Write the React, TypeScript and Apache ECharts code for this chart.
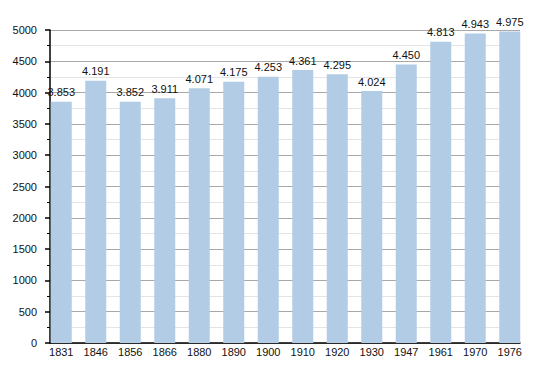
import React, { useEffect, useRef } from "react";
import * as echarts from "echarts";

const categories = ["1831", "1846", "1856", "1866", "1880", "1890", "1900", "1910", "1920", "1930", "1947", "1961", "1970", "1976"];
const population = [3853, 4191, 3852, 3911, 4071, 4175, 4253, 4361, 4295, 4024, 4450, 4813, 4943, 4975];
const yMin = 0;
const yMax = 5000;
const yInterval = 500;

const FONT = "'Liberation Sans', Arial, sans-serif";

function fmt(v: number): string {
  return String(v).replace(/\B(?=(\d{3})+(?!\d))/g, ".");
}

export default function App() {
  const ref = useRef<HTMLDivElement>(null);
  useEffect(() => {
    if (!ref.current) return;
    const chart = echarts.init(ref.current, undefined, { renderer: "svg" });
    chart.setOption({
      animation: false,
      backgroundColor: "#ffffff",
      textStyle: { fontFamily: FONT },
      grid: [
        { left: 44, right: 23, top: 30, bottom: 30 },
        { left: 50, right: 30, top: 30, bottom: 30 },
      ],
      xAxis: [
        {
          type: "category",
          gridIndex: 0,
          data: categories,
          axisLine: { show: false },
          axisTick: { show: false },
          axisLabel: { fontSize: 11, color: "#111", margin: 3, fontFamily: FONT },
          splitLine: { show: false },
        },
        {
          type: "category",
          gridIndex: 1,
          data: categories,
          axisLine: { show: true, lineStyle: { color: "#000", width: 1.5 } },
          axisTick: { show: false },
          axisLabel: { show: false },
          splitLine: { show: false },
        },
      ],
      yAxis: [
        { type: "value", gridIndex: 0, min: yMin, max: yMax, show: false, splitLine: { show: false } },
        {
          type: "value",
          gridIndex: 1,
          min: yMin,
          max: yMax,
          interval: yInterval,
          axisLine: { show: true, lineStyle: { color: "#000", width: 1.5 } },
          axisTick: { show: true, length: 5, lineStyle: { color: "#000", width: 1.5 } },
          minorTick: { show: true, splitNumber: 2, length: 3, lineStyle: { color: "#000", width: 1 } },
          splitLine: { show: true, lineStyle: { color: "#a8a8a8", width: 1 } },
          minorSplitLine: { show: true, lineStyle: { color: "#e4e4e4", width: 1 } },
          axisLabel: {
            fontSize: 11,
            color: "#111",
            margin: 13,
            fontFamily: FONT,
            formatter: (v: number) => String(v),
          },
        },
      ],
      series: [
        {
          type: "bar",
          xAxisIndex: 0,
          yAxisIndex: 0,
          data: population,
          barWidth: 21,
          itemStyle: { color: "#b3cce5" },
          label: {
            show: true,
            position: "top",
            distance: 4,
            fontSize: 11,
            color: "#111",
            fontFamily: FONT,
            formatter: (p: any) => fmt(p.value),
          },
        },
      ],
    });
    return () => chart.dispose();
  }, []);
  return (
    <div
      ref={ref}
      style={{ position: "fixed", left: 0, top: 0, width: 550, height: 373 }}
    />
  );
}
